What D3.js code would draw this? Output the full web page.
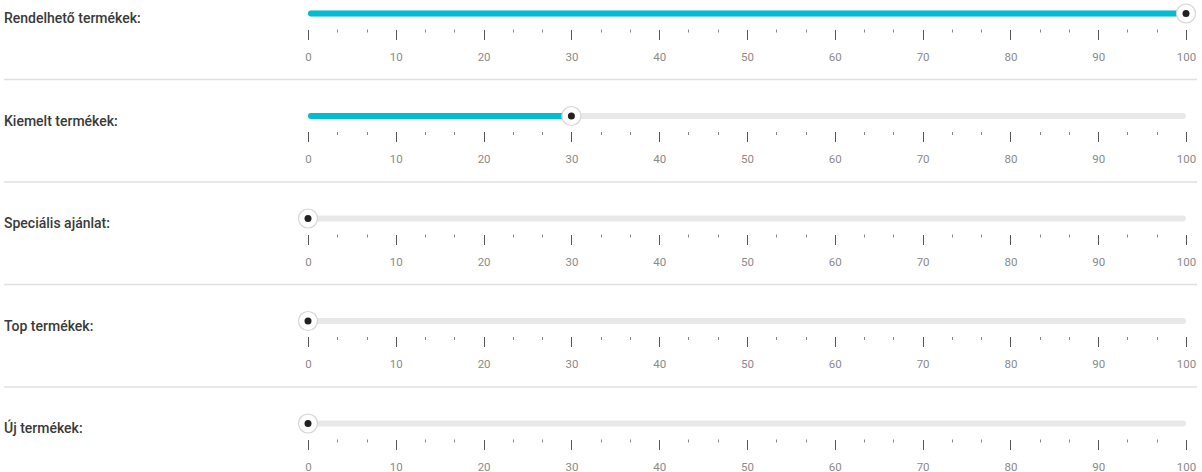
<!DOCTYPE html>
<html><head><meta charset="utf-8">
<script src="https://cdn.jsdelivr.net/npm/d3@7"></script>
<style>
html,body{margin:0;padding:0;background:#fff;}
svg{display:block;}
</style></head>
<body>
<svg id="chart" width="1202" height="472"></svg>
<script>
const categories = ["Rendelhető termékek:", "Kiemelt termékek:", "Speciális ajánlat:", "Top termékek:", "Új termékek:"];
const values = [100, 30, 0, 0, 0];
const majorTicks = [0, 10, 20, 30, 40, 50, 60, 70, 80, 90, 100];
const minorTicks = d3.range(0, 31).map(i => i * 100 / 30).filter((v, i) => i % 3 !== 0);

const svg = d3.select("#chart");
const x = d3.scaleLinear().domain([0, 100]).range([308, 1186]);
const rowH = 102.5, trackY0 = 13.5;

categories.forEach((cat, i) => {
  const ty = trackY0 + i * rowH;
  const g = svg.append("g");
  g.append("text").attr("x", 4).attr("y", ty + 9.5)
    .attr("font-family", "Roboto, sans-serif").attr("font-size", 14).attr("font-weight", 500)
    .attr("fill", "#3a3a3a").text(cat);
  // track
  g.append("line").attr("x1", x(0) + 3).attr("x2", x(100) - 3).attr("y1", ty).attr("y2", ty)
    .attr("stroke", "#e8e8e8").attr("stroke-width", 6).attr("stroke-linecap", "round");
  if (values[i] > 0) {
    g.append("line").attr("x1", x(0) + 3).attr("x2", x(values[i]) - 3).attr("y1", ty).attr("y2", ty)
      .attr("stroke", "#00bcd4").attr("stroke-width", 6).attr("stroke-linecap", "round");
  }
  // axis
  const ax = g.append("g").attr("transform", `translate(0,${ty + 16})`)
    .call(d3.axisBottom(x).tickValues(majorTicks).tickSize(10).tickPadding(13).tickFormat(d3.format("d")));
  ax.select(".domain").remove();
  ax.selectAll(".tick line").attr("stroke", "#555").attr("shape-rendering", "crispEdges");
  ax.selectAll(".tick text").attr("fill", "#8a8a8a").attr("font-size", 11.5).attr("font-family", "Roboto, sans-serif");
  g.append("g").selectAll("line").data(minorTicks).join("line")
    .attr("x1", d => Math.round(x(d)) + 0.5).attr("x2", d => Math.round(x(d)) + 0.5)
    .attr("y1", ty + 16).attr("y2", ty + 19)
    .attr("stroke", "#888").attr("stroke-width", 1);
  // handle
  const hx = x(values[i]);
  g.append("circle").attr("cx", hx).attr("cy", ty).attr("r", 9.5)
    .attr("fill", "#fff").attr("stroke", "#d6d6d6").attr("stroke-width", 1.2);
  g.append("circle").attr("cx", hx).attr("cy", ty).attr("r", 3.5).attr("fill", "#222");
  if (i < categories.length - 1) {
    svg.append("line").attr("x1", 4).attr("x2", 1197)
      .attr("y1", 79.5 + i * rowH).attr("y2", 79.5 + i * rowH)
      .attr("stroke", "#e0e0e0").attr("stroke-width", 1.5);
  }
});
</script>
</body></html>
